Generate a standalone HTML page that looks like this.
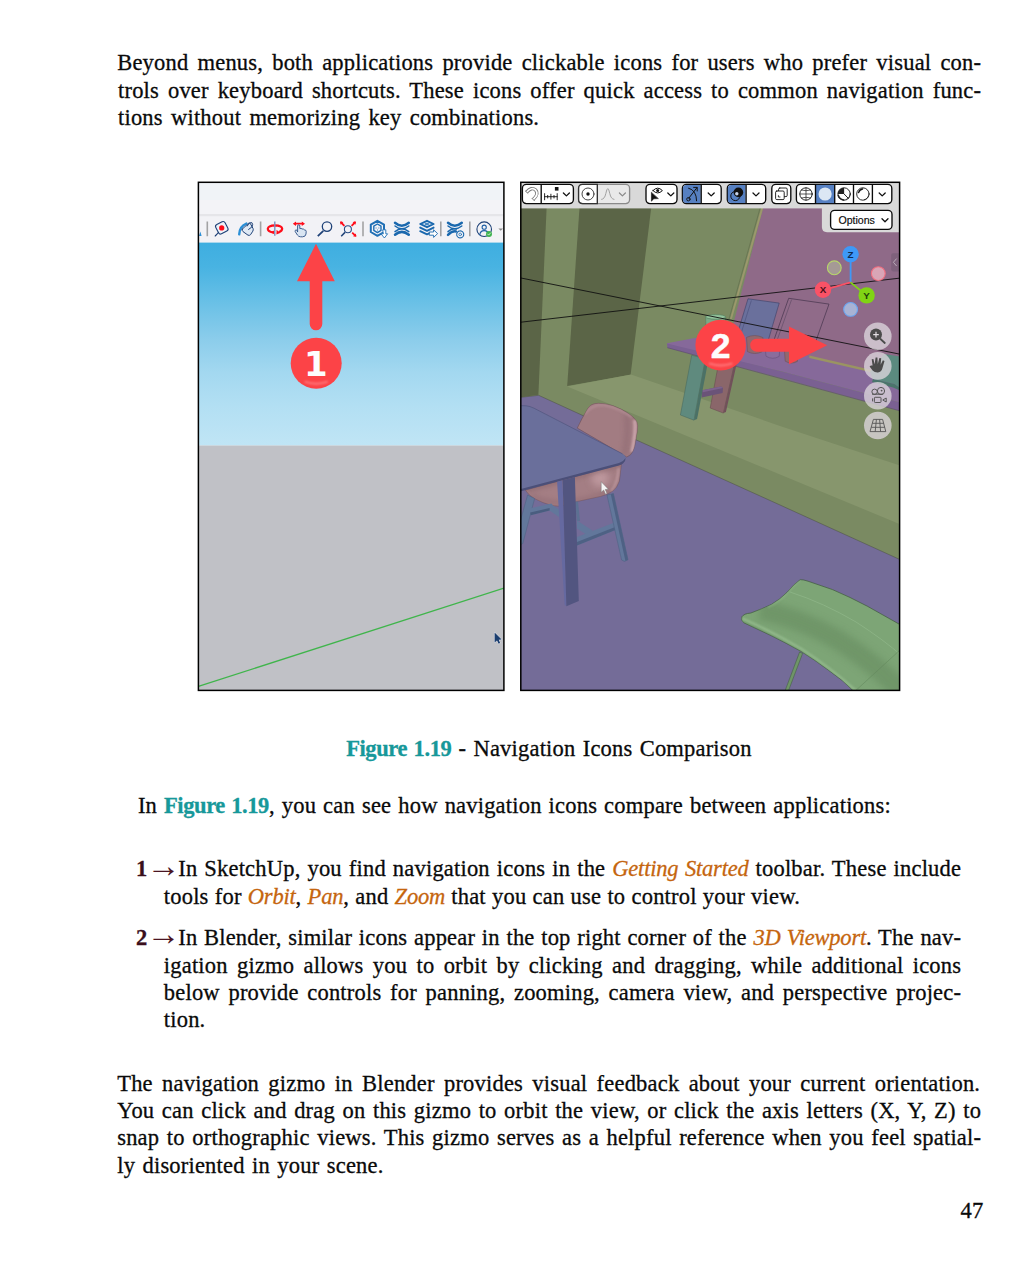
<!DOCTYPE html>
<html lang="en">
<head>
<meta charset="utf-8">
<title>Figure 1.19 - Navigation Icons Comparison</title>
<style>
  html, body { margin: 0; padding: 0; background: #ffffff; }
  body { width: 1034px; height: 1274px; position: relative; overflow: hidden;
         font-family: "Liberation Serif", "DejaVu Serif", serif; color: #0a0a0a; }
  .ln { position: absolute; height: 27px; line-height: 27px; font-size: 22.5px;
        white-space: nowrap; text-align: justify; text-align-last: justify;
        letter-spacing: 0.2px; margin: 0; padding: 0; -webkit-text-stroke: 0.3px currentColor; }
  .ln b { font-weight: bold; }
  .fig { color: #17989a; font-weight: bold; letter-spacing: -0.42px; }
  .kw { color: #c5650e; font-style: italic; letter-spacing: -0.2px; }
  .num { color: #3a0f1c; font-weight: bold; }
  .pre { display: inline-block; width: 42.3px; text-align: left; text-align-last: left; position: relative; height: 27px; vertical-align: top; }
  .arr { position: absolute; left: 10.6px; top: -3.4px; font-family: "Liberation Serif", serif; font-size: 34px; font-weight: normal; color: #4a1522; letter-spacing: 0; -webkit-text-stroke: 0; line-height: 27px; }
  #figure { position: absolute; left: 0; top: 0; width: 1034px; height: 1274px; }
</style>
</head>
<body>
<div class="ln" style="left:117.2px;top:49.3px;width:864.0px">Beyond menus, both applications provide clickable icons for users who prefer visual con-</div>
<div class="ln" style="left:118.0px;top:76.5px;width:863.2px">trols over keyboard shortcuts. These icons offer quick access to common navigation func-</div>
<div class="ln" style="left:118.0px;top:103.7px;width:421.2px">tions without memorizing key combinations.</div>
<div class="ln" style="left:346.2px;top:734.5px;width:405.5px"><span class="fig">Figure 1.19</span> - Navigation Icons Comparison</div>
<div class="ln" style="left:137.9px;top:792.1px;width:753.0px">In <span class="fig">Figure 1.19</span>, you can see how navigation icons compare between applications:</div>
<div class="ln" style="left:135.9px;top:855.2px;width:825.3px"><span class="pre"><span class="num">1</span> <span class="arr">→</span> </span>In SketchUp, you find navigation icons in the <span class="kw">Getting Started</span> toolbar. These include</div>
<div class="ln" style="left:163.8px;top:882.7px;width:636.2px">tools for <span class="kw">Orbit</span>, <span class="kw">Pan</span>, and <span class="kw">Zoom</span> that you can use to control your view.</div>
<div class="ln" style="left:135.9px;top:923.5px;width:825.3px"><span class="pre"><span class="num">2</span> <span class="arr">→</span> </span>In Blender, similar icons appear in the top right corner of the <span class="kw">3D Viewport</span>. The nav-</div>
<div class="ln" style="left:163.8px;top:951.7px;width:797.4px">igation gizmo allows you to orbit by clicking and dragging, while additional icons</div>
<div class="ln" style="left:163.8px;top:978.9px;width:797.4px">below provide controls for panning, zooming, camera view, and perspective projec-</div>
<div class="ln" style="left:163.8px;top:1006.1px;width:41.8px">tion.</div>
<div class="ln" style="left:117.2px;top:1069.9px;width:863.0px">The navigation gizmo in Blender provides visual feedback about your current orientation.</div>
<div class="ln" style="left:117.2px;top:1097.1px;width:864.0px">You can click and drag on this gizmo to orbit the view, or click the axis letters (X, Y, Z) to</div>
<div class="ln" style="left:117.2px;top:1124.3px;width:864.0px">snap to orthographic views. This gizmo serves as a helpful reference when you feel spatial-</div>
<div class="ln" style="left:117.2px;top:1151.5px;width:266.4px">ly disoriented in your scene.</div>
<div class="ln" style="left:960.5px;top:1197.1px;width:23.1px">47</div>
<svg id="figure" width="1034" height="1274" viewBox="0 0 1034 1274">
<defs>
  <linearGradient id="sky" x1="0" y1="0" x2="0" y2="1">
    <stop offset="0" stop-color="#3eaee0"/>
    <stop offset="0.12" stop-color="#48b3e2"/>
    <stop offset="0.32" stop-color="#6ec2e7"/>
    <stop offset="0.48" stop-color="#8ccdeb"/>
    <stop offset="0.64" stop-color="#a3d8f0"/>
    <stop offset="0.8" stop-color="#b2dff3"/>
    <stop offset="1" stop-color="#c0e5f5"/>
  </linearGradient>
  <filter id="blur2" filterUnits="userSpaceOnUse" x="500" y="170" width="420" height="540"><feGaussianBlur stdDeviation="2"/></filter>
  <filter id="blur1" filterUnits="userSpaceOnUse" x="500" y="170" width="420" height="540"><feGaussianBlur stdDeviation="1"/></filter>
  <filter id="blur3" filterUnits="userSpaceOnUse" x="500" y="170" width="420" height="540"><feGaussianBlur stdDeviation="3.5"/></filter>
  <clipPath id="cback"><path d="M577.3 428.1 L581.9 418.8 L588.1 408 Q590.5 404.3 595 403.6 Q602 402.6 612.9 405.7 Q622 409 628.3 413.4 Q634.5 417.5 636.6 421.5 Q638.3 425 637.3 431 L634.5 446.7 Q633 452 630.6 454.6 L626.8 457 Z"/></clipPath>
  <clipPath id="cseat"><path d="M525.4 490.2 L621.4 463.9 L619.4 481 Q617 488 612.8 491 Q607 495 600.5 496.4 L575.7 501.8 L565 505 Q558 507 552 505.5 L543.2 502.6 Q534 499 529.3 494.9 Z"/></clipPath>
  <clipPath id="gchair"><path d="M800.2 579.7 Q803 579.4 808 581.2 L832.5 589.6 Q850 597 867.3 606.2 L900 624.6 L900 692 L854.5 692 Q843 680 829 670.6 Q815 660 801.1 651.4 Q786 643 771.5 635.8 L743.7 622.7 Q740.6 620 741.9 616.8 Q744 613.5 750.6 613.1 Q762 609 771.5 604.4 Q780 599.5 787.2 592.2 Q794 584 800.2 579.7 Z"/></clipPath>
  <filter id="blurL" filterUnits="userSpaceOnUse" x="190" y="170" width="330" height="540"><feGaussianBlur stdDeviation="0.8"/></filter>
  <clipPath id="clipL"><rect x="198.4" y="182.3" width="305.5" height="508.1"/></clipPath>
  <clipPath id="clipR"><rect x="520.8" y="182.3" width="378.8" height="508.1"/></clipPath>
</defs>

<!-- ================= LEFT: SketchUp ================= -->
<g id="sketchup" clip-path="url(#clipL)">
  <rect x="198" y="182" width="307" height="33" fill="#f0f3f7"/>
  <rect x="198" y="200" width="307" height="15" fill="#f3f3f7"/>
  <rect x="198" y="214" width="307" height="29" fill="#f2f2f6"/>
  <rect x="198" y="214" width="307" height="2.2" fill="#e5e5e9"/>
  <rect x="198" y="242.6" width="307" height="203" fill="url(#sky)"/>
  <rect x="198" y="445.5" width="307" height="246" fill="#c0c1c6"/>
  <line x1="198.4" y1="686.4" x2="504" y2="588.1" stroke="#3fb54b" stroke-width="1.35"/>
  <!-- cursor -->
  <path d="M494.6 632.4 L494.6 642.4 L497 640.4 L498.6 643.8 L500.2 643.1 L498.7 639.8 L501.6 639.6 Z" fill="#1b3e6f" stroke="#eeeef2" stroke-width="1" paint-order="stroke"/>
  <!-- toolbar icons placeholder -->
  <g id="su-icons" fill="none" stroke-linecap="round" stroke-linejoin="round">
    <path d="M199 236 L200.4 231.6 L201.6 236 Z" fill="#2b8fd6" stroke="none"/>
    <g stroke="#a2a2a4" stroke-width="1.6" stroke-linecap="butt">
      <line x1="207.3" y1="221.4" x2="207.3" y2="236.3"/>
      <line x1="260.6" y1="221.4" x2="260.6" y2="236.3"/>
      <line x1="363" y1="221.4" x2="363" y2="236.3"/>
      <line x1="440.8" y1="221.4" x2="440.8" y2="236.3"/>
      <line x1="469.8" y1="221.4" x2="469.8" y2="236.3"/>
    </g>
    <!-- tape measure -->
    <g stroke="#1f4278" stroke-width="1.1">
      <rect x="216.6" y="222.6" width="10.4" height="10.4" rx="2.2" transform="rotate(-27 221.8 227.8)" fill="#eef1f8"/>
      <path d="M218.6 232.4 L215.2 236"/>
    </g>
    <circle cx="221.7" cy="227.9" r="2.6" fill="#ff0d1a"/>
    <!-- paint bucket -->
    <path d="M239.2 234.4 Q239.4 226.6 246.4 223.6" stroke="#2b8fd6" stroke-width="2.4"/>
    <g stroke="#1f4278" stroke-width="1">
      <path d="M242.2 229.2 L248.4 223.4 Q249.4 222.6 250.4 223.6 L253 228.4 Q253.6 229.8 252.8 231.2 L250.6 234.6 Q249.6 235.8 248 235.2 L243 231.6 Q241.6 230.4 242.2 229.2 Z" fill="#dfe9f5"/>
      <path d="M247.2 226 Q249.2 221.6 251.8 222.6 Q253.6 223.6 251.8 227.4 M248.6 229.4 L250.8 227.8"/>
    </g>
    <!-- orbit -->
    <path d="M273 232.4 Q267.6 231.4 267.8 228.6 Q268.4 225.6 275 225.4 Q281.8 225.6 282.2 228.6 Q282.2 231.2 278.6 232.2" stroke="#ff0d1a" stroke-width="2.2" stroke-linecap="butt"/>
    <path d="M276.6 229.8 L280 233 L276.4 234.6 Z M274.4 230.2 L271 232.6 L274.6 234.6 Z" fill="#ff0d1a" stroke="none"/>
    <line x1="274.8" y1="221.4" x2="274.8" y2="235.8" stroke="#7a90bd" stroke-width="1.4" stroke-linecap="butt"/>
    <!-- pan -->
    <path d="M295 223.7 H303" stroke="#ff0d1a" stroke-width="1.8" stroke-linecap="butt"/>
    <path d="M292.8 223.7 L296 221.4 L296 226 Z M305 223.7 L301.8 221.4 L301.8 226 Z" fill="#ff0d1a" stroke="none"/>
    <path d="M297.6 231.6 L297.6 226 Q297.6 224.8 298.7 224.8 Q299.8 224.8 299.8 226 L299.8 228.6 Q301.2 227.8 302 229 Q303.6 228.6 304.2 229.8 Q306 229.6 306.2 231.4 L306 234 Q305.6 236.8 302.6 236.8 L300.6 236.8 Q298.6 236.8 297.4 235 L295.2 231.6 Q294.8 230.2 296 229.8 Q297 229.8 297.6 231.6 Z" fill="#d9e5f2" stroke="#2b4f86" stroke-width="0.9"/>
    <!-- zoom -->
    <circle cx="327" cy="226.6" r="4.7" stroke="#1f4278" stroke-width="1.3"/>
    <line x1="323.3" y1="230.8" x2="317.8" y2="236.2" stroke="#1f4278" stroke-width="1.8" stroke-linecap="butt"/>
    <!-- zoom extents -->
    <circle cx="347.9" cy="229.2" r="3.5" stroke="#2b4f86" stroke-width="1.1"/>
    <line x1="345" y1="232.4" x2="341.2" y2="236.2" stroke="#1f4278" stroke-width="1.5" stroke-linecap="butt"/>
    <path d="M340.6 222 L344.4 225.8 M355.4 222 L351.6 225.8 M352.2 232.6 L355.8 236.2" stroke="#ff0d1a" stroke-width="1.8" stroke-linecap="butt"/>
    <path d="M340 221.4 L343.4 222 L340.6 224.8 Z M356 221.4 L352.6 222 L355.4 224.8 Z M356.4 236.8 L353 236.2 L355.8 233.4 Z" fill="#ff0d1a" stroke="none"/>
    <!-- hex download -->
    <g stroke="#1f6fb5">
      <path d="M377.4 220.8 L384 224.6 L384 232 L377.4 235.8 L370.8 232 L370.8 224.6 Z" stroke-width="2"/>
      <path d="M377.4 224 L381 226.2 L381 230.4 L377.4 232.6 L373.8 230.4 L373.8 226.2 Z" stroke-width="1.4"/>
      <path d="M376 228 h0.1 M378.8 228 h0.1 M377.4 230 h0.1" stroke-width="1"/>
      <path d="M383 229.8 H385.8 V233.8 H387.6 L384.4 238 L381 233.8 H383 Z" fill="#fff" stroke-width="0.9"/>
    </g>
    <!-- tags (wavy) -->
    <g stroke="#1a68ae" stroke-width="2.5">
      <path d="M395 222.8 Q401.8 228.6 408.8 222.8"/>
      <path d="M395 226 Q401.8 231.6 408.8 226" stroke-width="1.5"/>
      <path d="M395 234.8 Q401.8 229 408.8 234.8"/>
      <path d="M395 231.6 Q401.8 226 408.8 231.6" stroke-width="1.5"/>
    </g>
    <!-- layers w/ arrow -->
    <g stroke="#1a68ae" stroke-width="1.9">
      <path d="M427 220.8 L433.6 224 L427 227.2 L420.2 224 Z" fill="#cfe0f0"/>
      <path d="M420.2 227.6 L427 230.8 L433.6 227.6"/>
      <path d="M420.2 231.2 L427 234.4 L430 233"/>
      <path d="M425.6 224 h2.6" stroke-width="1.6"/>
      <path d="M429.6 232 H433.6 V229.8 L437.6 233.6 L433.6 237.4 V235.2 H429.6 Z" fill="#fff" stroke-width="0.9"/>
    </g>
    <!-- tags w/ gear -->
    <g stroke="#1a68ae" stroke-width="2.5">
      <path d="M448 222.8 Q454.8 228.6 461.8 222.8"/>
      <path d="M448 226 Q454.8 231.6 461.8 226" stroke-width="1.5"/>
      <path d="M448 234.8 Q452 230.8 456 231.4"/>
      <path d="M448 231.6 Q452 227.6 456.4 229" stroke-width="1.5"/>
      <circle cx="460.2" cy="234.4" r="3.5" fill="#f2f2f6" stroke-width="1.1" stroke-dasharray="1.6 0.6"/>
      <circle cx="460.2" cy="234.4" r="1.3" fill="#fff" stroke-width="0.8"/>
    </g>
    <!-- user -->
    <circle cx="484.2" cy="229.2" r="7.3" stroke="#1f4278" stroke-width="1.1"/>
    <circle cx="484.2" cy="227.2" r="2.1" stroke="#1f5fa5" stroke-width="1.1"/>
    <path d="M479.8 234.6 Q480.4 230.6 484.2 230.6 Q488 230.6 488.6 234.6" stroke="#1f5fa5" stroke-width="1.1"/>
    <circle cx="489" cy="234" r="3" fill="#3fb34f" stroke="none"/>
    <path d="M487.6 234 L488.7 235.1 L490.5 233" stroke="#e8f6ea" stroke-width="0.8"/>
    <path d="M498.4 228.4 L503 228.4 L500.7 230.8 Z" fill="#8a8a8a" stroke="none"/>
  </g>
  <!-- red arrow -->
  <path d="M316 243.8 L334.8 281.2 L322.3 281.2 L322.3 324 A6.3 6.3 0 0 1 309.7 324 L309.7 281.2 L297 281.2 Z" fill="#fc4347"/>
  <circle cx="316.2" cy="363.2" r="25.5" fill="#fc4347"/>
  <path d="M304.6 381.6 Q316.2 385.8 327.8 381.6" fill="none" stroke="#ff8a8e" stroke-width="2" opacity="0.8" filter="url(#blurL)"/>
  <text x="315.8" y="375.7" font-family="'DejaVu Sans','Liberation Sans',sans-serif" font-weight="bold" font-size="34" text-anchor="middle" fill="#fdfdfd">1</text>
</g>
<rect x="198.4" y="182.3" width="305.5" height="508.1" fill="none" stroke="#000" stroke-width="1.5"/>

<!-- ================= RIGHT: Blender ================= -->
<g id="blender" clip-path="url(#clipR)">
  <!-- wall -->
  <rect x="520" y="182" width="381" height="510" fill="#7a8a62"/>
  <!-- left dark strip -->
  <polygon points="520,208 546.6,208 538.4,394.8 520,397.2" fill="#5b6547"/>
  <!-- recess -->
  <polygon points="579.5,208 651.2,208 630.6,374.8 567.2,386" fill="#5b6547"/>
  <!-- ledge top -->
  <polygon points="567.2,386.4 631,374.4 780,425.9 900,465.6 900,524.2 780,474.5 635.5,414.7" fill="#87966d"/>
  <!-- floor -->
  <polygon points="520,397.4 538.6,395.3 635.5,439.6 780,505 900,559.6 900,692 520,692" fill="#746c98"/>
  <polyline points="520,397.4 538.6,395.3 635.5,439.6 780,505 900,559.6" fill="none" stroke="#4d5340" stroke-width="0.7" opacity="0.75"/>
  <!-- mauve wall -->
  <polygon points="763,208 900,208 900,378 808.9,356.5 731,333 " fill="#8f6a88"/>
  <polygon points="761.2,208 763.2,208 731.9,319 730,319" fill="#9c986c"/>
  <line x1="760.1" y1="208" x2="729" y2="319" stroke="#5f6a48" stroke-width="0.6"/>

  <!-- panels leaning on mauve wall -->
  <polygon points="748,298.8 779.2,303.1 765.4,350 734.6,343" fill="#6a709c" stroke="#3d4268" stroke-width="0.6"/>
  <polyline points="751.4,300.4 738.4,342" fill="none" stroke="#4a4f7a" stroke-width="0.6"/>
  <polygon points="788.7,298.3 829,304.1 812,352 770.4,350" fill="#906b89" stroke="#45344c" stroke-width="0.7"/>
  <polyline points="791.6,299.6 773.6,350" fill="none" stroke="#5a4862" stroke-width="0.6"/>
  <!-- purple wall table: top -->
  <polygon points="667,343.3 700,337 731,331.5 808.9,356.5 866.7,369.7 900,377.5 900,402.5 780,371 667.8,345.4" fill="#86699a"/>
  <!-- yellow strip at table back -->
  <polygon points="809.4,355.4 900,376.4 900,379 809.4,358" fill="#9a9462"/>
  <!-- table front face -->
  <polygon points="667,343.6 780,371 900,402.5 900,410.7 780,377.8 667.4,347.7" fill="#7a6092"/>
  <line x1="667.4" y1="347.7" x2="900" y2="410.9" stroke="#5a466e" stroke-width="0.6"/>
  <!-- teal object right -->
  <polygon points="884,354 900,356.5 900,388 894.4,384 873,379 870,372" fill="#5b8a7f"/>
  <polygon points="873,379 894.4,384 900,388 900,390.5 893,387.5 872,382" fill="#4a756b"/>
  <!-- cups -->
  <path d="M705.6 317 L706.6 339 H724.6 L725.6 317 Q715.6 321 705.6 317 Z" fill="#7ba886" stroke="#4f7a5a" stroke-width="0.5"/>
  <ellipse cx="715.6" cy="316.9" rx="10" ry="2.3" fill="#93c39c" stroke="#4f7a5a" stroke-width="0.6"/>
  <path d="M746.5 337.4 L747.4 351.6 Q754.6 355.4 762 351.8 L763 337.6 Q754.6 333.6 746.5 337.4 Z" fill="#91686e" stroke="#6b4a50" stroke-width="0.5"/>
  <path d="M765.1 346 L766 356.2 Q772.6 360.2 779.2 356.4 L780 346 Z" fill="#8a6d9c" stroke="#5f4a72" stroke-width="0.5"/>
  <path d="M784.3 348 L785.2 361.2 Q791.4 364.8 797.4 361.4 L798.1 348 Z" fill="#91686e" stroke="#6b4a50" stroke-width="0.5"/>
  <!-- legs of wall table -->
  <polygon points="719,361 734.8,361 733.4,368.6 723.4,413.1 710.2,408 717.2,370.9" fill="#8a666a" stroke="#64464c" stroke-width="0.5"/>
  <polygon points="734.8,361 737.2,361 735.8,367.8 725.9,411.9 723.4,413.1 733.4,368.6" fill="#71505a"/>
  <polygon points="702.1,390.2 721.1,386.4 723,387.9 722.6,392.9 701.7,397.6" fill="#6a5378"/>
  <polygon points="702.1,390.2 721.1,386.4 723,387.9 702.8,392.2" fill="#7d638e"/>
  <polygon points="691.7,355.2 705.4,358.8 694,420.2 680.4,415" fill="#5f8a7e" stroke="#44665c" stroke-width="0.5"/>
  <polygon points="705.4,358.8 708.4,359.8 697.1,418.9 694,420.2" fill="#4b7166"/>
  <!-- black horizon lines -->
  <line x1="520" y1="277.8" x2="900" y2="354.2" stroke="#111" stroke-width="0.9"/>
  <line x1="520" y1="322.3" x2="900" y2="278.1" stroke="#111" stroke-width="0.9"/>

  <!-- chair back -->
  <path d="M577.3 428.1 L581.9 418.8 L588.1 408 Q590.5 404.3 595 403.6 Q602 402.6 612.9 405.7 Q622 409 628.3 413.4 Q634.5 417.5 636.6 421.5 Q638.3 425 637.3 431 L634.5 446.7 Q633 452 630.6 454.6 L626.8 457 Z" fill="#a27c82" stroke="#6d4f56" stroke-width="0.6"/>
  <g clip-path="url(#cback)">
    <path d="M626.5 414 Q629 430 624.5 456" fill="none" stroke="#8f6b72" stroke-width="6" opacity="0.55" filter="url(#blur2)"/>
    <path d="M634.6 420 Q636.4 430 632 452" fill="none" stroke="#d2adb3" stroke-width="3.2" opacity="0.85" filter="url(#blur1)"/>
    <path d="M584 414 Q592 404 604 405 Q620 408 632 417" fill="none" stroke="#b8939a" stroke-width="3" opacity="0.6" filter="url(#blur1)"/>
  </g>
  <!-- chair seat -->
  <path d="M525.4 490.2 L621.4 463.9 L619.4 481 Q617 488 612.8 491 Q607 495 600.5 496.4 L575.7 501.8 L565 505 Q558 507 552 505.5 L543.2 502.6 Q534 499 529.3 494.9 Z" fill="#a47e84" stroke="#6d4f56" stroke-width="0.5"/>
  <g clip-path="url(#cseat)">
    <ellipse cx="600" cy="478" rx="9" ry="9" fill="#c39da3" opacity="0.8" filter="url(#blur3)"/>
    <path d="M532 496 Q552 506 576 501 Q600 497 616 488" fill="none" stroke="#8f6b72" stroke-width="5" opacity="0.5" filter="url(#blur2)"/>
    <path d="M526 490 L621 464" fill="none" stroke="#7f5d64" stroke-width="5" opacity="0.45" filter="url(#blur2)"/>
    <path d="M618.6 468 Q617.6 484 611 491" fill="none" stroke="#c9a4aa" stroke-width="2" opacity="0.7" filter="url(#blur1)"/>
  </g>
  <!-- chair legs -->
  <polygon points="527.6,495 534.6,498.6 522.8,543.5 520,545 520,522" fill="#62779b" stroke="#4d6080" stroke-width="0.5"/>
  <polygon points="529.6,508.6 551.4,503.4 553,505.4 561,511 559,517 549.6,510.6 530.6,515.2" fill="#62779b"/>
  <polygon points="530.2,512.4 549.6,508 549.6,510.6 530.6,515.2" fill="#4a5d7f"/>
  <polygon points="575,501.8 578,501.5 580,521 577,521" fill="#5c7092"/>
  <polygon points="577,520.6 592.4,530.6 589.4,536.4 577,528.4" fill="#62779b"/>
  <polygon points="577,537 614.6,522.4 616.6,529.6 577,545.4" fill="#62779b"/>
  <polygon points="577,542 615.8,526.8 616.6,529.6 577,545.4" fill="#4e6184"/>
  <polygon points="607,495 613.4,493.6 628,559.8 624.4,561.4 621.6,560" fill="#62779b" stroke="#4d6080" stroke-width="0.5"/>
  <polygon points="610.8,494.2 613.4,493.6 628,559.8 625.4,560.8" fill="#4e6184"/>
  <!-- blue table -->
  <path d="M520 405.6 L526 405.8 Q530 406.2 534 408.2 L622.5 453.8 Q626.6 456.3 625.6 459.6 Q624.5 462.6 619.5 464.2 L520 490.2 Z" fill="#6a6f9b"/>
  <path d="M625.6 458 Q625.8 461 623 463.4 Q621 464.8 619 465.4 L520 491.6 L520 489.3 L619 463 Q623.5 461.6 625.6 458 Z" fill="#4b4f78"/>
  <path d="M520 405.6 L526 405.8 Q530 406.2 534 408.2 L622.5 453.8" fill="none" stroke="#4e527a" stroke-width="0.6"/>
  <!-- table leg -->
  <polygon points="557.1,481.7 562.6,480.2 566.4,606.3 564.6,604.7" fill="#6569a0"/>
  <polygon points="562.6,480.2 574.9,477.1 578.8,600.9 566.4,606.3" fill="#525580"/>
  <!-- white cursor -->
  <path d="M601.2 481.7 L601.2 492.2 L603.7 490 L605.6 494.2 L607 493.5 L605.2 489.5 L608.4 489.2 Z" fill="#f4f4f4" stroke="#777" stroke-width="0.5"/>

  <!-- green chair -->
  <path d="M800.2 579.7 Q803 579.4 808 581.2 L832.5 589.6 Q850 597 867.3 606.2 L900 624.6 L900 692 L854.5 692 Q843 680 829 670.6 Q815 660 801.1 651.4 Q786 643 771.5 635.8 L743.7 622.7 Q740.6 620 741.9 616.8 Q744 613.5 750.6 613.1 Q762 609 771.5 604.4 Q780 599.5 787.2 592.2 Q794 584 800.2 579.7 Z" fill="#7da576" stroke="#3f5a3c" stroke-width="0.7"/>
  <g clip-path="url(#gchair)">
    <path d="M760 610 Q800 618 838 640 Q876 664 904 694" fill="none" stroke="#6b9064" stroke-width="20" opacity="0.7" filter="url(#blur3)"/>
    <path d="M742 618.6 Q770 630.6 801 648.8 Q830 667.6 856 691" fill="none" stroke="#9dc396" stroke-width="2.4" opacity="0.75" filter="url(#blur1)"/>
    <path d="M741.6 621.4 Q770 634.4 801 652.4 Q830 671.6 853 692" fill="none" stroke="#5d8258" stroke-width="1.6" opacity="0.6" filter="url(#blur1)"/>
    <path d="M790 592 Q824 603 856 622 Q884 640 902 656" fill="none" stroke="#9abf93" stroke-width="0.9" opacity="0.55"/>
    <path d="M852 694 L900 650" fill="none" stroke="#5f8559" stroke-width="0.7" opacity="0.7"/>
    <path d="M800 580 Q792 586 786 594 Q778 602 768 607" fill="none" stroke="#98be92" stroke-width="2" opacity="0.5" filter="url(#blur1)"/>
  </g>
  <polygon points="799.6,652 802.6,653.4 788,692 784.6,692" fill="#6f9568" stroke="#3f5a3c" stroke-width="0.5"/>

  <!-- ===== overlay: circle 2 + arrow ===== -->
  <path d="M756.7 338.7 H789 V326.5 L827.2 345.2 L789 364.3 V351.7 H756.7 A6.5 6.5 0 0 1 756.7 338.7 Z" fill="#fc4347"/>
  <circle cx="720.7" cy="345.1" r="25.3" fill="#fc4347"/>
  <path d="M709 363.4 Q720.7 367.6 732.4 363.4" fill="none" stroke="#ff8a8e" stroke-width="2" opacity="0.8" filter="url(#blur1)"/>
  <text x="720.7" y="358.2" font-family="'Liberation Sans','DejaVu Sans',sans-serif" font-weight="bold" font-size="35.6" text-anchor="middle" fill="#fdfdfd" stroke="#fdfdfd" stroke-width="0.5">2</text>

  <!-- ===== gizmo ===== -->
  <g id="gizmo" font-family="'Liberation Sans',sans-serif" font-weight="bold" font-size="9.8" text-anchor="middle">
    <circle cx="834.3" cy="267.8" r="6.9" fill="#a59a95" stroke="#b7d66a" stroke-width="1.1"/>
    <circle cx="878.3" cy="273.6" r="6.9" fill="#d9a5b6" stroke="#f26d7e" stroke-width="1.1"/>
    <circle cx="850.6" cy="309.4" r="6.9" fill="#a8b3d4" stroke="#6aa6f2" stroke-width="1.1"/>
    <line x1="850.6" y1="282.4" x2="850.6" y2="256" stroke="#3e99f7" stroke-width="1.8"/>
    <line x1="850.6" y1="282.4" x2="824" y2="289.8" stroke="#fa5266" stroke-width="1.8"/>
    <line x1="850.6" y1="282.4" x2="866" y2="295" stroke="#80d414" stroke-width="1.8"/>
    <circle cx="850.6" cy="254.2" r="8.2" fill="#3e99f7"/>
    <circle cx="823" cy="289.8" r="8.2" fill="#fa5266"/>
    <circle cx="866.6" cy="295.4" r="8.2" fill="#80d414"/>
    <text x="850.6" y="257.8" fill="#0d2b52">Z</text>
    <text x="823" y="293.4" fill="#4a0f18">X</text>
    <text x="866.6" y="299" fill="#21400a">Y</text>
  </g>
  <!-- sidebar tab -->
  <path d="M893 253.2 L900 253.2 L900 271.4 L893 271.4 Q891.2 271.4 891.2 269.6 L891.2 255 Q891.2 253.2 893 253.2 Z" fill="#7f617c"/>
  <polyline points="896.6,258.6 893.4,262.3 896.6,266" fill="none" stroke="#b9a9b7" stroke-width="1"/>

  <!-- ===== nav buttons ===== -->
  <g id="navbtns">
    <circle cx="877.8" cy="336.2" r="13.8" fill="#dcd6dc" fill-opacity="0.78"/>
    <circle cx="877.8" cy="365.9" r="13.8" fill="#dcd6dc" fill-opacity="0.78"/>
    <circle cx="877.8" cy="395.7" r="13.8" fill="#dcd6dc" fill-opacity="0.78"/>
    <circle cx="877.8" cy="425.5" r="13.8" fill="#dcd6dc" fill-opacity="0.78"/>
    <!-- zoom -->
    <circle cx="876" cy="334.6" r="6" fill="#4b4b4b"/>
    <line x1="880.5" y1="339" x2="884.8" y2="343" stroke="#4b4b4b" stroke-width="1.8" stroke-linecap="round"/>
    <path d="M873.2 334.6 H878.8 M876 331.8 V337.4" stroke="#e4e0e4" stroke-width="1.2" fill="none"/>
    <!-- hand -->
    <path d="M872.6 365.6 L871.7 359.2 L873.4 359 L874.6 364.2 L875.6 357.6 L877.4 357.6 L877.8 364 L879.4 357.9 L881.2 358.3 L880.6 364.8 L882.9 360.2 L884.5 360.9 L882.4 368.2 Q881.4 372 878 372.4 Q874.6 372.6 872.6 370.4 L869.6 366.6 L870.9 365.4 Z" fill="#4b4b4b"/>
    <!-- camera -->
    <g fill="none" stroke="#555" stroke-width="1">
      <circle cx="874.6" cy="391.8" r="2.7"/>
      <circle cx="881" cy="391" r="3.6"/>
      <path d="M872 394.2 H883"/>
      <rect x="874.4" y="397.3" width="6.6" height="5.2" rx="0.8"/>
      <path d="M882.8 400 L886.2 398 L886.2 402 Z"/>
      <path d="M872.6 398.4 V401.4"/>
    </g>
    <circle cx="881.6" cy="390.6" r="0.9" fill="#555"/>
    <!-- grid -->
    <g fill="none" stroke="#555" stroke-width="0.9">
      <path d="M873.4 419.4 H882.6 L885.8 431.6 H870 Z"/>
      <path d="M876.4 419.4 L875.2 431.6 M879.6 419.4 L880.6 431.6 M872.4 423.3 H883.6 M871.3 427.3 H884.7"/>
    </g>
  </g>

  <!-- ===== header ===== -->
  <rect x="520" y="182" width="381" height="26.4" fill="#d9d9d9"/>
  <path d="M821.9 208 H900 V232.2 H827 Q821.9 232.2 821.9 227 Z" fill="#d9d9d9"/>
  <g id="hdr" fill="#fff" stroke="#0a0a0a" stroke-width="1.35">
    <rect x="522.4" y="184.4" width="51" height="19.2" rx="4"/>
    <line x1="541.2" y1="184.4" x2="541.2" y2="203.6"/>
    <rect x="578.6" y="184.4" width="51" height="19.2" rx="4" fill="#e9e9e9" stroke="#8a8a8a"/>
    <path d="M582.6 184.4 H597.3 V203.6 H582.6 Q578.6 203.6 578.6 199.6 V188.4 Q578.6 184.4 582.6 184.4 Z" fill="#fff" stroke="#333"/>
    <rect x="646" y="184.4" width="31" height="19.2" rx="4"/>
    <rect x="682.4" y="184.4" width="38.8" height="19.2" rx="4"/>
    <path d="M686.4 184.9 H700.7 V203.1 H686.4 Q682.9 203.1 682.9 199.6 V188.4 Q682.9 184.9 686.4 184.9 Z" fill="#5680c2" stroke="none"/>
    <line x1="701.2" y1="184.4" x2="701.2" y2="203.6"/>
    <rect x="727.3" y="184.4" width="38.4" height="19.2" rx="4"/>
    <path d="M731.3 184.9 H745.6 V203.1 H731.3 Q727.8 203.1 727.8 199.6 V188.4 Q727.8 184.9 731.3 184.9 Z" fill="#5680c2" stroke="none"/>
    <line x1="746.1" y1="184.4" x2="746.1" y2="203.6"/>
    <rect x="771.8" y="184.4" width="19" height="19.2" rx="4"/>
    <rect x="796.4" y="184.4" width="95.4" height="19.2" rx="4"/>
    <rect x="816" y="184.9" width="18.2" height="18.2" fill="#5680c2" stroke="none"/>
    <line x1="815.5" y1="184.4" x2="815.5" y2="203.6"/>
    <line x1="834.7" y1="184.4" x2="834.7" y2="203.6"/>
    <line x1="853.5" y1="184.4" x2="853.5" y2="203.6"/>
    <line x1="872.4" y1="184.4" x2="872.4" y2="203.6"/>
    <rect x="830.6" y="210.4" width="61.4" height="19" rx="4"/>
  </g>
  <text x="838.4" y="223.7" font-family="'Liberation Sans',sans-serif" font-size="10.6" fill="#0a0a0a" stroke="#0a0a0a" stroke-width="0.15">Options</text>
  <g id="hdr-icons" fill="none" stroke="#111" stroke-width="1.1" stroke-linecap="round" stroke-linejoin="round">
    <!-- chevrons -->
    <polyline points="563.4,193.0 566.4,195.9 569.4,193.0" stroke-width="1.3"/>
    <polyline points="619.4,193.0 622.4,195.9 625.4,193.0" stroke="#8a8a8a" stroke-width="1.2"/>
    <polyline points="667.8,193.0 670.8,195.9 673.8,193.0" stroke-width="1.3"/>
    <polyline points="708.2,193.0 711.2,195.9 714.2,193.0" stroke-width="1.3"/>
    <polyline points="753.0,193.0 756.0,195.9 759.0,193.0" stroke-width="1.3"/>
    <polyline points="879.2,193.0 882.2,195.9 885.2,193.0" stroke-width="1.3"/>
    <polyline points="882.0,218.8 885.0,221.7 888.0,218.8" stroke-width="1.3"/>
    <!-- magnet -->
    <path d="M526.6 192.2 Q531.6 186.4 535.6 190 Q539.2 194 533.2 199.6" stroke="#777" stroke-width="3.4" stroke-linecap="butt"/><path d="M526.6 192.2 Q531.6 186.4 535.6 190 Q539.2 194 533.2 199.6" stroke="#fff" stroke-width="1.7" stroke-linecap="butt"/><path d="M525.4 191.1 L527.9 193.3 M532 198.4 L534.4 200.8" stroke="#777" stroke-width="0.9"/>
    <!-- snap increments -->
    <path d="M544.6 193.6 V199.8 M550.9 194.2 V199.2 M557.2 193.6 V199.8 M544.6 196.7 H557.2 M547.7 195.4 V198 M554 195.4 V198" stroke-width="0.9"/>
    <rect x="554.9" y="187" width="3.6" height="3.6" fill="#111" stroke="none"/>
    <!-- proportional edit -->
    <circle cx="588" cy="194" r="6" stroke="#333" stroke-width="0.9"/>
    <circle cx="588" cy="194" r="1.7" fill="#111" stroke="none"/>
    <path d="M601.6 199.4 Q604.6 199.2 605.8 193.6 Q606.8 188.6 607.8 188.6 Q608.8 188.6 609.8 193.6 Q611 199.2 614 199.4" stroke="#999" stroke-width="0.9"/>
    <!-- visibility: eye + cursor -->
    <path d="M651.4 192.6 L651.4 201.2 L653.8 198.8 L658 198.6 Z" fill="#111" stroke-width="0.6"/>
    <path d="M653 190.6 Q657.6 185.6 662.4 190.6 Q657.6 195.4 653 190.6 Z" stroke-width="1"/>
    <circle cx="657.7" cy="190.4" r="1.5" fill="#111" stroke="none"/>
    <!-- gizmo toggle -->
    <path d="M688.6 188.2 Q696.4 190 696.6 200.8" stroke="#111" stroke-width="1"/>
    <path d="M688.8 198.2 L697 187.6 M693.6 187.4 H697.2 V191" stroke="#111" stroke-width="1"/>
    <circle cx="688.4" cy="199.2" r="1.7" stroke="#111" stroke-width="0.9"/>
    <!-- overlay toggle -->
    <circle cx="735.4" cy="196" r="4.6" stroke="#111" stroke-width="1"/>
    <circle cx="738.4" cy="192.4" r="4.8" fill="#111" stroke="none"/>
    <circle cx="736.8" cy="193.8" r="1.7" fill="#c8d4ea" stroke="none"/>
    <!-- xray -->
    <rect x="778.6" y="188" width="8.6" height="8.6" rx="1.2" stroke-width="0.9"/>
    <rect x="775.6" y="191" width="8.6" height="8.6" rx="1.2" fill="#fff" stroke-width="0.9"/>
    <path d="M778.4 195.6 V197 H780" stroke-width="0.8"/>
    <!-- shading modes -->
    <circle cx="806" cy="194" r="6.2" stroke-width="0.9"/>
    <path d="M799.8 194 H812.2 M806 187.8 V200.2 M801.4 190 Q806 191.6 810.6 190 M801.4 198 Q806 196.4 810.6 198" stroke-width="0.7"/>
    <circle cx="825.1" cy="194" r="6.6" fill="#dce7f4" stroke="none"/>
    <circle cx="844.1" cy="194" r="6.2" stroke-width="0.9" fill="#fff"/>
    <path d="M844.1 187.8 A6.2 6.2 0 0 0 837.9 194 L844.1 194 Z" fill="#222" stroke="none"/>
    <path d="M838.3 195.6 Q839.6 199.4 843.6 200" stroke="#222" stroke-width="1.6"/>
    <path d="M844.1 194 L848.4 198.4" stroke="#222" stroke-width="1"/>
    <path d="M846.6 199.4 L847.6 198 M848.6 198 L849.4 196.6 M849.6 195.8 L850 194.6" stroke="#222" stroke-width="0.7"/>
    <circle cx="862.9" cy="194" r="6.2" stroke-width="0.9" fill="#fff"/>
    <path d="M858.6 192.6 Q859.6 189.6 862.6 189" stroke-width="1.4"/>
    <path d="M864.4 199.6 Q867.8 198.6 868.6 195.2" stroke-width="0.7" stroke-dasharray="0.8 0.8"/>
  </g>
</g>
<rect x="520.8" y="182.3" width="378.8" height="508.1" fill="none" stroke="#000" stroke-width="1.5"/>
</svg>

</body>
</html>
